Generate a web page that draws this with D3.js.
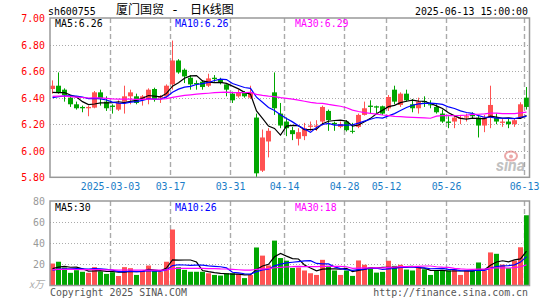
<!DOCTYPE html>
<html><head><meta charset="utf-8">
<script src="https://cdn.jsdelivr.net/npm/d3@7"></script>
<style>html,body{margin:0;padding:0;background:#fff;}svg{display:block;}</style>
</head><body>
<svg id="chart" width="545" height="300"></svg>
<script>
const dates = ["02-17","02-18","02-19","02-20","02-21","02-24","02-25","02-26","02-27","02-28",
"03-03","03-04","03-05","03-06","03-07","03-10","03-11","03-12","03-13","03-14",
"03-17","03-18","03-19","03-20","03-21","03-24","03-25","03-26","03-27","03-28",
"03-31","04-01","04-02","04-03","04-07","04-08","04-09","04-10","04-11",
"04-14","04-15","04-16","04-17","04-18","04-21","04-22","04-23","04-24","04-25",
"04-28","04-29","04-30","05-06","05-07","05-08","05-09",
"05-12","05-13","05-14","05-15","05-16","05-19","05-20","05-21","05-22","05-23",
"05-26","05-27","05-28","05-29","05-30","06-03","06-04","06-05","06-06",
"06-09","06-10","06-11","06-12","06-13"];
const open  = [6.465,6.49,6.46,6.40,6.35,6.33,6.32,6.325,6.44,6.37, 6.34,6.31,6.37,6.41,6.41,6.39,6.39,6.465,6.40,6.41,
6.50,6.68,6.61,6.55,6.51,6.52,6.49,6.55,6.535,6.50, 6.43,6.41,6.44,6.40,6.25,5.85,6.07,6.44,6.28,6.22,
6.155,6.09,6.11,6.18,6.18,6.22,6.30,6.21,6.18,6.22, 6.15,6.18,6.27,6.34,6.335,6.335,6.32,6.46,6.345,6.43,
6.35,6.32,6.375,6.35,6.33,6.28,6.22,6.22,6.24,6.25, 6.27,6.25,6.19,6.25,6.25,6.21,6.22,6.20,6.25,6.40];
const high  = [6.53,6.59,6.47,6.42,6.37,6.34,6.34,6.45,6.46,6.41, 6.35,6.38,6.49,6.46,6.43,6.42,6.47,6.475,6.42,6.50,
6.83,6.69,6.62,6.57,6.53,6.53,6.58,6.57,6.55,6.50, 6.445,6.46,6.45,6.49,6.28,6.16,6.17,6.59,6.36,6.25,
6.18,6.17,6.21,6.22,6.23,6.34,6.31,6.22,6.22,6.23, 6.21,6.28,6.37,6.38,6.34,6.34,6.42,6.49,6.44,6.46,
6.39,6.40,6.41,6.38,6.35,6.31,6.26,6.27,6.27,6.28, 6.29,6.27,6.27,6.49,6.28,6.24,6.24,6.24,6.365,6.48];
const low   = [6.43,6.43,6.37,6.33,6.31,6.29,6.26,6.32,6.34,6.30, 6.28,6.30,6.28,6.35,6.35,6.34,6.35,6.37,6.36,6.40,
6.46,6.58,6.51,6.46,6.46,6.46,6.48,6.52,6.50,6.41, 6.36,6.40,6.40,6.39,5.80,5.84,5.95,6.27,6.17,6.11,
6.08,6.04,6.08,6.15,6.15,6.19,6.15,6.15,6.17,6.145, 6.13,6.17,6.265,6.28,6.28,6.27,6.30,6.35,6.33,6.37,
6.29,6.28,6.33,6.32,6.28,6.21,6.17,6.17,6.20,6.22, 6.24,6.10,6.14,6.17,6.20,6.18,6.17,6.18,6.24,6.31];
const close = [6.49,6.44,6.42,6.35,6.32,6.32,6.33,6.44,6.395,6.32, 6.33,6.36,6.41,6.44,6.36,6.41,6.46,6.39,6.41,6.49,
6.68,6.59,6.56,6.50,6.50,6.48,6.545,6.54,6.51,6.46, 6.38,6.44,6.41,6.44,5.83,6.10,6.15,6.32,6.19,6.17,
6.125,6.14,6.17,6.19,6.19,6.33,6.23,6.20,6.20,6.155, 6.145,6.27,6.32,6.33,6.325,6.28,6.405,6.37,6.43,6.38,
6.32,6.37,6.365,6.345,6.29,6.22,6.21,6.25,6.25,6.26, 6.26,6.19,6.25,6.345,6.22,6.22,6.20,6.23,6.35,6.33];
const volume = [20.8,22.5,17,12,14.5,13,12,17.4,13.3,11, 12.6,9,17.4,16.4,10,14,18.9,13.8,13.2,22.5,
53,17.3,14.8,13,13,13,11.6,10,9.4,11.6, 11.6,11,7,10,36,28.3,19,42.5,26,23.5,
16.6,17,14.2,11.6,10,24.3,18.6,14.2,10,14.2, 9.1,23.7,19.6,17.3,12.2,12.9,23.4,18.6,19.6,15.1,
14.2,17.3,15.4,10,14.2,14.8,14.2,15.4,10,14.2, 14.2,21.8,14.2,31.3,30,19.8,16.4,23.5,36.2,66.5];
// closes / volumes of the sessions just before the window (needed for the moving averages)
const prevCloses = [6.40,6.43,6.45,6.42,6.41,6.44,6.43,6.40,6.42,6.44,6.41,6.42,6.43,6.40,6.43,
6.40,6.38,6.41,6.39,6.385,6.37,6.35,6.36,6.34,6.38,6.45,6.42,6.44,6.40];
const prevVolumes = [15,16,14,17,15,14,16,15,15,16,14,15,17,15,14,16,15,15,15,16,13,14,12,13,14,15,14,16,14];

const priceTicks = [7.00,6.80,6.60,6.40,6.20,6.00,5.80];
const volumeTicks = [80,60,40,20];
const dateTicks = ["03-03","03-17","03-31","04-14","04-28","05-12","05-26","06-13"];
const dateTickLabels = ["2025-03-03","03-17","03-31","04-14","04-28","05-12","05-26","06-13"];
const maPeriods = [5,10,30];
const priceLegend = ["MA5:6.26","MA10:6.26","MA30:6.29"];
const volumeLegend = ["MA5:30","MA10:26","MA30:18"];
const stockCode = "sh600755";
const titleParts = ["厦门国贸", "-", "日K线图"];
const timeText = "2025-06-13 15:00:00";

const RED = "#ff5252", GREEN = "#00a600";
const MA_COLORS = ["#000000","#0000ff","#ff00ff"];
const MONO = "'DejaVu Sans Mono', 'Liberation Mono', monospace";
const CJK = "'Noto Sans CJK SC', sans-serif";
const CW = 5.95;

const svg = d3.select("#chart");
const L = 50, R = 530;
const pTop = 18, pBot = 177.3, vTop = 201, vBot = 285.5;

const x = d3.scaleBand().domain(dates).range([L, R]).paddingInner(0).paddingOuter(0);
const y = d3.scaleLinear().domain([5.80, 7.00]).range([pBot, pTop]);
const yv = d3.scaleLinear().domain([0, 80]).range([vBot, vTop]);

function monoText(g, str, xx, yy, color, anchor) {
  return g.append("text").attr("x", xx).attr("y", yy).attr("fill", color)
    .attr("font-family", MONO).attr("font-size", 11)
    .attr("text-anchor", anchor || "start")
    .attr("textLength", str.length * CW).attr("lengthAdjust", "spacingAndGlyphs")
    .text(str);
}
function movingAvg(prev, vals, n) {
  const all = prev.concat(vals), off = prev.length;
  return vals.map((v, i) => d3.mean(all.slice(off + i - n + 1, off + i + 1)));
}

// header
monoText(svg, stockCode, 48, 14.5, "#000");
svg.append("text").attr("x", 116).attr("y", 14).attr("font-family", CJK).attr("font-size", 12).attr("fill", "#000").text(titleParts[0]);
svg.append("text").attr("x", 171).attr("y", 14).attr("font-family", MONO).attr("font-size", 12).attr("fill", "#000")
  .attr("textLength", 8).attr("lengthAdjust", "spacingAndGlyphs").text(titleParts[1]);
svg.append("text").attr("x", 190).attr("y", 14).attr("font-family", CJK).attr("font-size", 12).attr("fill", "#000").text(titleParts[2]);
monoText(svg, timeText, 528, 14.5, "#000", "end");

// grid
const grid = svg.append("g");
priceTicks.slice(1, -1).forEach(t => grid.append("line").attr("x1", L).attr("x2", R).attr("y1", Math.round(y(t)) + 0.5).attr("y2", Math.round(y(t)) + 0.5)
  .attr("stroke", "#aaa").attr("stroke-dasharray", "1,2"));
volumeTicks.slice(1).forEach(t => grid.append("line").attr("x1", L).attr("x2", R).attr("y1", Math.round(yv(t)) + 0.5).attr("y2", Math.round(yv(t)) + 0.5)
  .attr("stroke", "#aaa").attr("stroke-dasharray", "1,2"));
dateTicks.forEach(d => {
  const xx = x(d) + 0.5;
  [[pTop, pBot], [vTop, vBot]].forEach(([a, b]) => grid.append("line").attr("x1", xx).attr("x2", xx).attr("y1", a).attr("y2", b)
    .attr("stroke", "#aaa").attr("stroke-width", 1.4).attr("stroke-dasharray", "5,3"));
});

// watermark
const wm = svg.append("g").attr("opacity", 0.6);
wm.append("ellipse").attr("cx", 511).attr("cy", 156).attr("rx", 6).attr("ry", 4.5).attr("fill", "none").attr("stroke", "#e07070").attr("stroke-width", 2);
wm.append("circle").attr("cx", 511).attr("cy", 156.5).attr("r", 2).attr("fill", "#e07070");
wm.append("text").attr("x", 496).attr("y", 170.5).attr("font-family", "Roboto, sans-serif").attr("font-weight", "bold")
  .attr("font-style", "italic").attr("font-size", 16).attr("fill", "#999").text("sina");

// candles and volume bars
const data = dates.map((d, i) => ({d, o: open[i], h: high[i], l: low[i], c: close[i], v: volume[i]}));
const colorOf = k => k.c >= k.o ? RED : GREEN;
const cg = svg.append("g");
data.forEach(k => {
  const xx = x(k.d), col = colorOf(k);
  cg.append("line").attr("x1", xx + 2.5).attr("x2", xx + 2.5).attr("y1", y(k.h)).attr("y2", y(k.l)).attr("stroke", col).attr("stroke-width", 1);
  const top = y(Math.max(k.o, k.c)), bot = y(Math.min(k.o, k.c));
  cg.append("rect").attr("x", xx).attr("width", 5).attr("y", top).attr("height", Math.max(1, bot - top)).attr("fill", col);
  cg.append("rect").attr("x", xx).attr("width", 5).attr("y", yv(k.v)).attr("height", yv(0) - yv(k.v)).attr("fill", col);
});

// moving averages
svg.append("clipPath").attr("id", "pc").append("rect").attr("x", L).attr("y", pTop).attr("width", R - L).attr("height", pBot - pTop);
svg.append("clipPath").attr("id", "vc").append("rect").attr("x", L).attr("y", vTop).attr("width", R - L).attr("height", vBot - vTop);
const lineP = d3.line().x((v, i) => x(dates[i]) + 2.5).y(v => y(v));
const lineV = d3.line().x((v, i) => x(dates[i]) + 2.5).y(v => yv(v));
maPeriods.forEach((n, j) => {
  svg.append("path").attr("clip-path", "url(#pc)").attr("d", lineP(movingAvg(prevCloses, close, n)))
    .attr("fill", "none").attr("stroke", MA_COLORS[j]).attr("stroke-width", 1.2);
  svg.append("path").attr("clip-path", "url(#vc)").attr("d", lineV(movingAvg(prevVolumes, volume, n)))
    .attr("fill", "none").attr("stroke", MA_COLORS[j]).attr("stroke-width", 1.2);
});

// frames
[[pTop, pBot], [vTop, vBot]].forEach(([a, b]) => svg.append("rect").attr("x", L).attr("y", a).attr("width", R - L - 0.5).attr("height", b - a)
  .attr("fill", "none").attr("stroke", "#999").attr("stroke-width", 1.5));

// legends
const legX = [55, 175, 295];
priceLegend.forEach((s, j) => monoText(svg, s, legX[j], 27, MA_COLORS[j]));
volumeLegend.forEach((s, j) => monoText(svg, s, legX[j], 211, MA_COLORS[j]));

// axis labels
priceTicks.forEach(t => monoText(svg, t.toFixed(2), 45, y(t) + 4, "#ff0000", "end"));
volumeTicks.forEach(t => monoText(svg, String(t), 45, yv(t) + 4, "#999", "end"));
dateTicks.forEach((d, i) => monoText(svg, dateTickLabels[i], x(d) + 0.5, 189.5, "#1a7dc8", "middle"));
svg.append("text").attr("x", 44).attr("y", 288).attr("text-anchor", "end").attr("font-family", CJK)
  .attr("font-size", 10).attr("font-style", "italic").attr("fill", "#aaa").text("x万");
monoText(svg, "Copyright 2025 SINA.COM", 50, 296, "#555");
monoText(svg, "http://finance.sina.com.cn", 528, 296, "#555", "end");
</script>
</body></html>
